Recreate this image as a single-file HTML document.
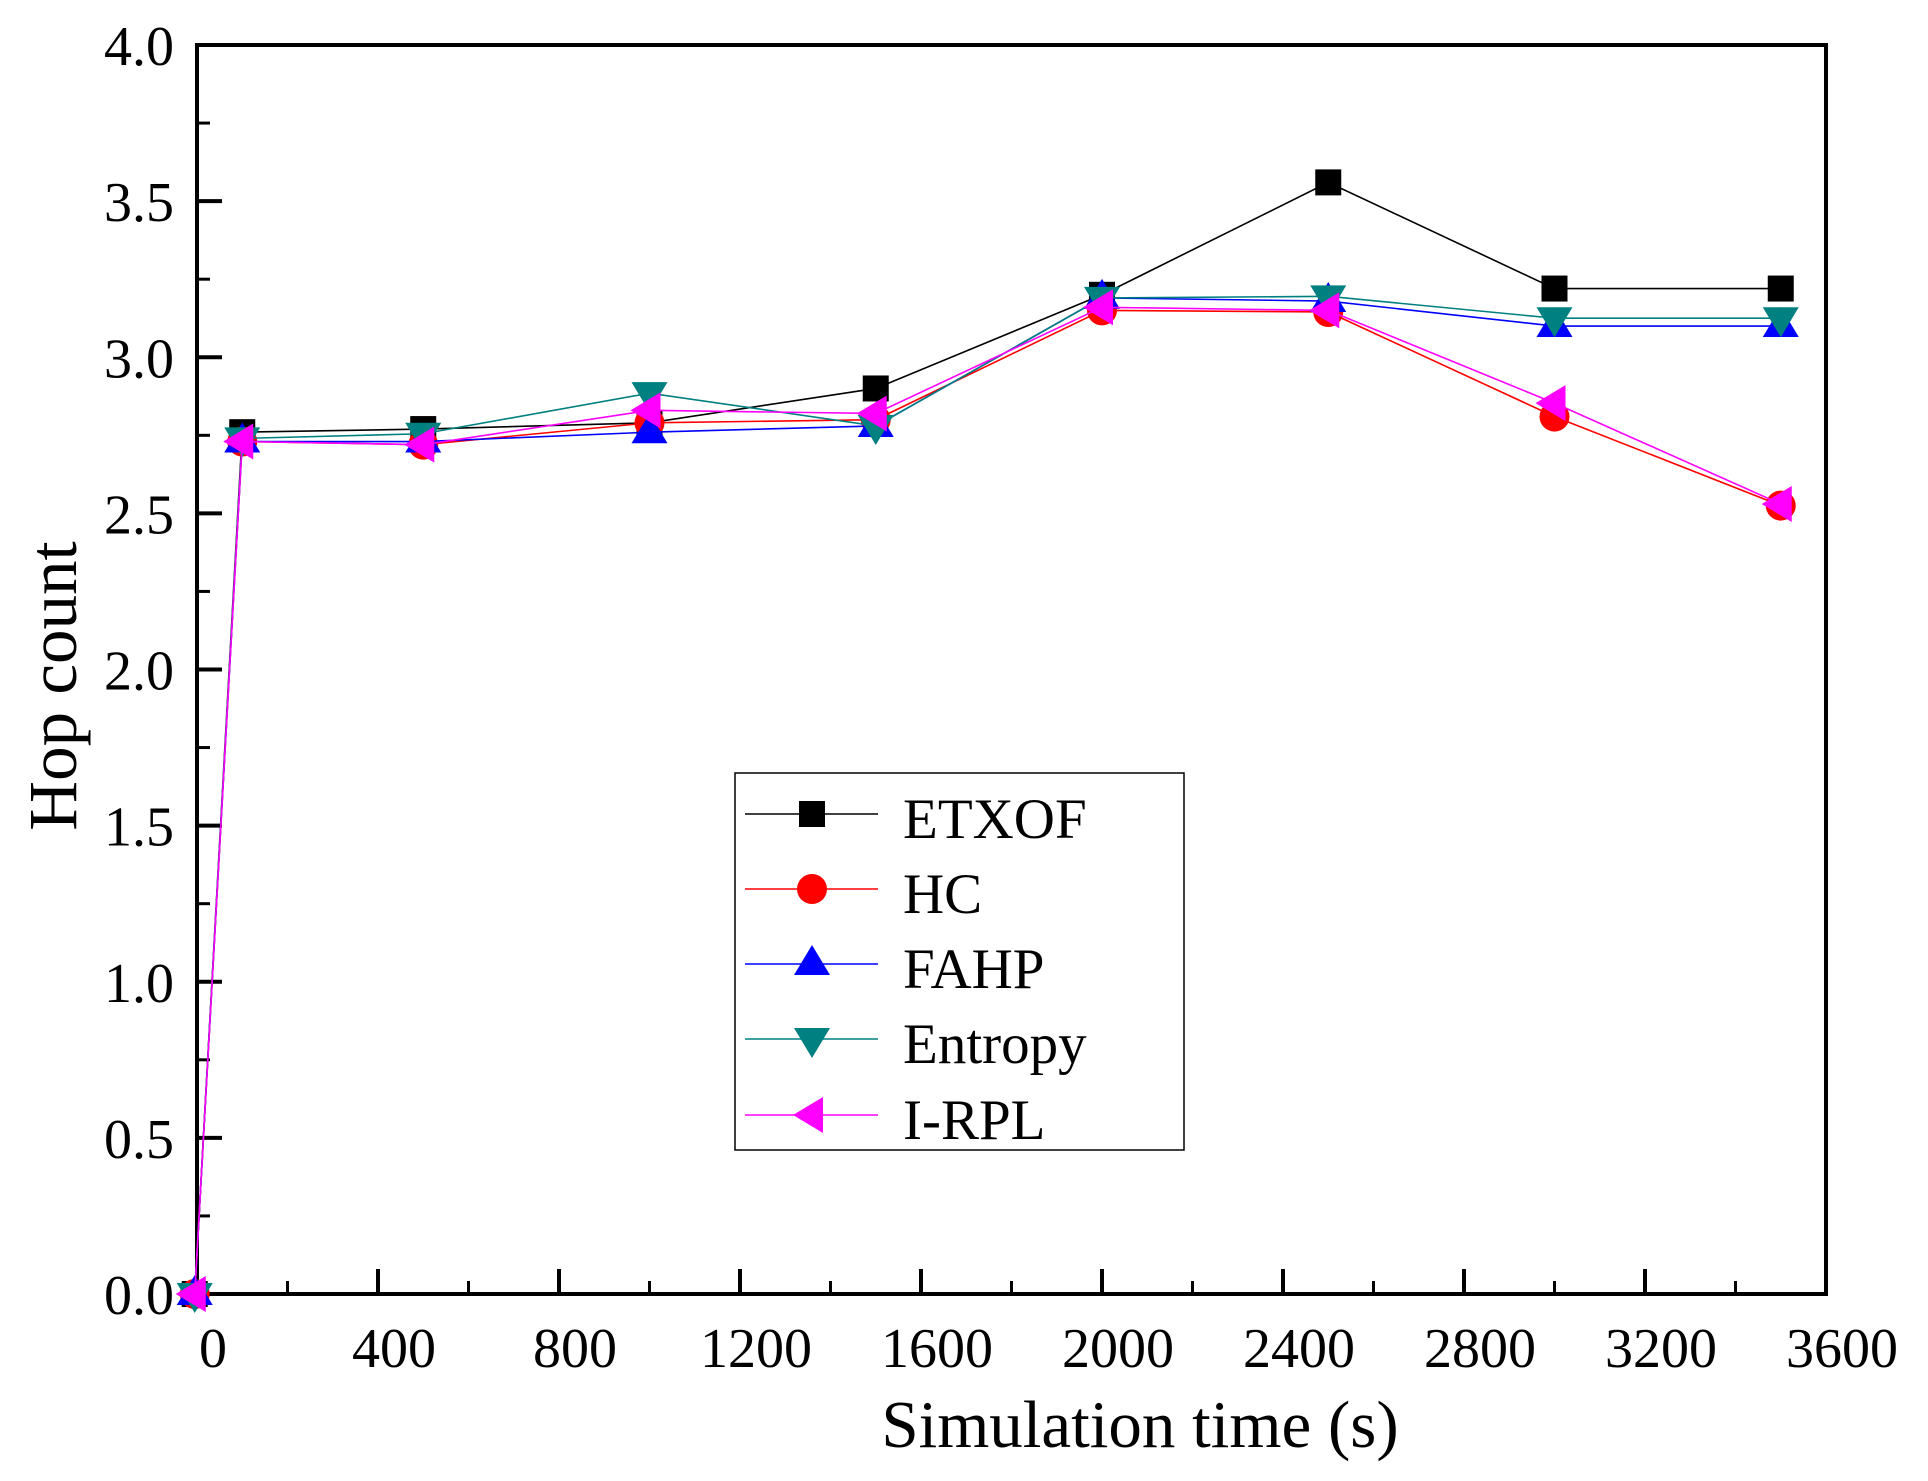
<!DOCTYPE html>
<html><head><meta charset="utf-8"><style>
html,body{margin:0;padding:0;background:#fff}
svg{display:block}
text{font-family:"Liberation Serif",serif;fill:#000}
</style></head><body>
<svg id="chart" width="1928" height="1481" viewBox="0 0 1928 1481" xmlns="http://www.w3.org/2000/svg">
<g id="plot"></g>
</svg>
<script>
const xValues = [-5, 100, 500, 1000, 1500, 2000, 2500, 3000, 3500];
const etxof   = [0, 2.76, 2.77, 2.79, 2.90, 3.20, 3.56, 3.22, 3.22];
const hc      = [0, 2.73, 2.72, 2.79, 2.80, 3.15, 3.145, 2.81, 2.525];
const fahp    = [0, 2.73, 2.73, 2.76, 2.78, 3.19, 3.18, 3.10, 3.10];
const entropy = [0, 2.74, 2.755, 2.885, 2.78, 3.19, 3.195, 3.125, 3.125];
const irpl    = [0, 2.73, 2.72, 2.83, 2.82, 3.16, 3.15, 2.853, 2.53];
const xTicks = [0, 400, 800, 1200, 1600, 2000, 2400, 2800, 3200, 3600];
const yTicks = [0, 0.5, 1.0, 1.5, 2.0, 2.5, 3.0, 3.5, 4.0];
const seriesNames = ["ETXOF", "HC", "FAHP", "Entropy", "I-RPL"];

const L=197, R=1826, T=45, B=1294;
const xs = v => L + (v-0)/(3600-0)*(R-L);
const ys = v => B - (v-0)/(4-0)*(B-T);
const NS="http://www.w3.org/2000/svg";
const svg=document.getElementById('chart');
function mk(tag, attrs, parent){const e=document.createElementNS(NS,tag);for(const k in attrs)e.setAttribute(k,attrs[k]);(parent||svg).appendChild(e);return e;}

const styles=[
 {data:etxof,color:"#000000",m:"square"},
 {data:hc,color:"#ff0000",m:"circle"},
 {data:fahp,color:"#0000ff",m:"up"},
 {data:entropy,color:"#008080",m:"down"},
 {data:irpl,color:"#ff00ff",m:"left"}
];
function marker(type,cx,cy,color,parent){
  let e;
  if(type==="square") e=mk('rect',{x:cx-13,y:cy-13,width:26,height:26,fill:color},parent);
  else if(type==="circle") e=mk('circle',{cx:cx,cy:cy,r:15,fill:color},parent);
  else if(type==="up") e=mk('polygon',{points:`${cx},${cy-19} ${cx-18},${cy+11} ${cx+18},${cy+11}`,fill:color},parent);
  else if(type==="down") e=mk('polygon',{points:`${cx},${cy+19} ${cx-18},${cy-11} ${cx+18},${cy-11}`,fill:color},parent);
  else e=mk('polygon',{points:`${cx-19},${cy} ${cx+11},${cy-18} ${cx+11},${cy+18}`,fill:color},parent);
  return e;
}

const frame=mk('rect',{x:L,y:T,width:R-L,height:B-T,fill:"none",stroke:"#000","stroke-width":4});



xTicks.forEach((t,i)=>{
  const x=xs(t);
  if(i>0 && i<xTicks.length-1){
    const tk=mk('line',{x1:x,y1:B,x2:x,y2:B-25,stroke:"#000","stroke-width":4});
    
    
  }
  if(i<xTicks.length-1){
    const mx=xs(t+200);
    const mt=mk('line',{x1:mx,y1:B,x2:mx,y2:B-13,stroke:"#000","stroke-width":3});
    
    
  }
  const lb=mk('text',{x:x+16,y:1367,"text-anchor":"middle","font-size":56});
  lb.textContent=t;
  
  
});
yTicks.forEach((t,i)=>{
  const y=ys(t);
  if(i>0 && i<yTicks.length-1){
    const tk=mk('line',{x1:L,y1:y,x2:L+25,y2:y,stroke:"#000","stroke-width":4});
    
    
  }
  if(i<yTicks.length-1){
    const my=ys(t+0.25);
    const mt=mk('line',{x1:L,y1:my,x2:L+13,y2:my,stroke:"#000","stroke-width":3});
    
    
  }
  const lb=mk('text',{x:174,y:y+20,"text-anchor":"end","font-size":56});
  lb.textContent=t.toFixed(1);
  
  
});

const xt=mk('text',{x:1140,y:1447,"text-anchor":"middle","font-size":67});
xt.textContent="Simulation time (s)";


const yt=mk('text',{x:0,y:0,"text-anchor":"middle","font-size":69,transform:"translate(76,686) rotate(-90)"});
yt.textContent="Hop count";



styles.forEach((s,si)=>{
  const g=mk('g',{});
  
  
  const pts=s.data.map((v,i)=>xs(xValues[i])+","+ys(v)).join(" ");
  const pl=mk('polyline',{points:pts,fill:"none",stroke:s.color,"stroke-width":1.6},g);
  
  
  s.data.forEach((v,i)=>{
    const m=marker(s.m,xs(xValues[i]),ys(v),s.color,g);
    
    
  });
});

const lg=mk('g',{});


const lbox=mk('rect',{x:735,y:773,width:449,height:377,fill:"#fff",stroke:"#000","stroke-width":1.5},lg);


const rowY=[814,889,964,1039,1115];
styles.forEach((s,si)=>{
  const eg=mk('g',{},lg);
  
  
  const y=rowY[si];
  mk('line',{x1:745,y1:y,x2:878,y2:y,stroke:s.color,"stroke-width":1.6},eg);
  marker(s.m,812,y,s.color,eg);
  const tx=mk('text',{x:903,y:y+24,"font-size":57},eg);
  tx.textContent=seriesNames[si];
});
</script>
</body></html>
